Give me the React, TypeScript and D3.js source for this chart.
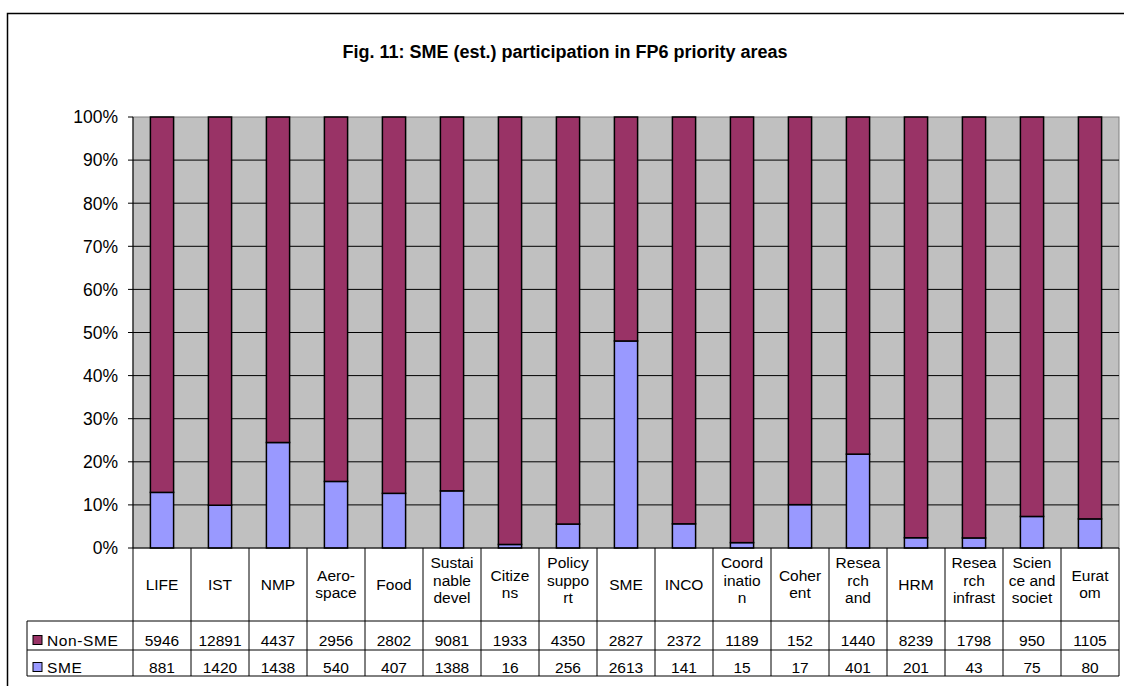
import React from "react";
import * as d3 from "d3";

const categories: string[] = [
  "LIFE", "IST", "NMP", "Aero-\nspace", "Food", "Sustai\nnable\ndevel", "Citize\nns",
  "Policy\nsuppo\nrt", "SME", "INCO", "Coord\ninatio\nn", "Coher\nent", "Resea\nrch\nand",
  "HRM", "Resea\nrch\ninfrast", "Scien\nce and\nsociet", "Eurat\nom",
];
const nonSME: number[] = [5946, 12891, 4437, 2956, 2802, 9081, 1933, 4350, 2827, 2372, 1189, 152, 1440, 8239, 1798, 950, 1105];
const sme: number[] = [881, 1420, 1438, 540, 407, 1388, 16, 256, 2613, 141, 15, 17, 401, 201, 43, 75, 80];
const yTicks: number[] = [0, 0.1, 0.2, 0.3, 0.4, 0.5, 0.6, 0.7, 0.8, 0.9, 1];
const title = "Fig. 11: SME (est.) participation in FP6 priority areas";

const COLOR_NON = "#993366";
const COLOR_SME = "#9999FF";
const FONT = "Arial, 'Liberation Sans', sans-serif";

export default function App() {
  const W = 1124, H = 686;
  const left = 133, right = 1119, top = 117, bottom = 548;
  const rowHead = 621, rowNon = 650, rowSme = 676, tableLeft = 27;

  const ids = categories.map((_, i) => String(i));
  const xCol = d3.scaleBand<string>().domain(ids).range([left, right]).padding(0);
  const xBar = d3.scaleBand<string>().domain(ids).range([left, right]).paddingInner(0.6).paddingOuter(0.3);
  const y = d3.scaleLinear().domain([0, 1]).range([bottom, top]);

  const rows = categories.map((c, i) => ({ id: String(i), SME: sme[i], NON: nonSME[i] }));
  const stack = d3.stack<any>().keys(["SME", "NON"]).offset(d3.stackOffsetExpand);
  const series = stack(rows);
  const colors: Record<string, string> = { SME: COLOR_SME, NON: COLOR_NON };
  const fs = 15.5;

  return (
    <svg width={W} height={H} style={{ position: "absolute", left: 0, top: 0 }} fontFamily={FONT}>
      <rect x={0} y={0} width={W} height={H} fill="#fff" />
      <rect x={7.5} y={13.5} width={W + 20} height={H + 20} fill="none" stroke="#000" strokeWidth={1.5} />
      <text x={565} y={58} textAnchor="middle" fontSize={18} fontWeight="bold">{title}</text>

      {/* plot area */}
      <rect x={left} y={top} width={right - left} height={bottom - top} fill="#C0C0C0" stroke="#808080" strokeWidth={1} />
      {yTicks.map((t) => (
        <g key={t}>
          {t > 0 && t < 1 && <line x1={left} x2={right} y1={y(t)} y2={y(t)} stroke="#000" strokeWidth={1} />}
          <line x1={left - 5} x2={left} y1={y(t)} y2={y(t)} stroke="#000" strokeWidth={1} />
          <text x={118} y={y(t)} dy="0.36em" textAnchor="end" fontSize={17.5}>{d3.format(".0%")(t)}</text>
        </g>
      ))}

      {series.map((s) => (
        <g key={s.key}>
          {s.map((d, i) => (
            <rect key={i} x={xBar(String(i))} width={xBar.bandwidth()} y={y(d[1])} height={y(d[0]) - y(d[1])}
              fill={colors[s.key]} stroke="#000" strokeWidth={1.5} />
          ))}
        </g>
      ))}
      <line x1={left} x2={left} y1={top} y2={bottom} stroke="#000" strokeWidth={1} />
      <line x1={left} x2={right} y1={bottom} y2={bottom} stroke="#000" strokeWidth={1} />

      {/* data table */}
      <g stroke="#000" strokeWidth={1}>
        {ids.map((id) => (
          <line key={id} x1={xCol(id)} x2={xCol(id)} y1={bottom} y2={rowSme} />
        ))}
        <line x1={right} x2={right} y1={bottom} y2={rowSme} />
        <line x1={tableLeft} x2={tableLeft} y1={rowHead} y2={rowSme} />
        <line x1={tableLeft} x2={right} y1={rowHead} y2={rowHead} />
        <line x1={tableLeft} x2={right} y1={rowNon} y2={rowNon} />
        <line x1={tableLeft} x2={right} y1={rowSme} y2={rowSme} />
      </g>
      {categories.map((c, i) => {
        const lines = c.split("\n");
        const n = lines.length;
        const cy = n === 3 ? 580 : 584;
        const cx = xCol(String(i))! + xCol.bandwidth() / 2;
        return (
          <text key={i} x={cx} textAnchor="middle" fontSize={fs}>
            {lines.map((l, j) => (
              <tspan key={j} x={cx} y={cy + (j - (n - 1) / 2) * 17.5} dy="0.36em">{l}</tspan>
            ))}
          </text>
        );
      })}
      {nonSME.map((v, i) => (
        <text key={"n" + i} x={xCol(String(i))! + xCol.bandwidth() / 2} y={640} dy="0.36em" textAnchor="middle" fontSize={fs}>{v}</text>
      ))}
      {sme.map((v, i) => (
        <text key={"s" + i} x={xCol(String(i))! + xCol.bandwidth() / 2} y={667} dy="0.36em" textAnchor="middle" fontSize={fs}>{v}</text>
      ))}
      <rect x={33} y={635.5} width={9} height={9} fill={COLOR_NON} stroke="#000" strokeWidth={1} />
      <text x={47} y={640} dy="0.36em" fontSize={fs} letterSpacing={0.6}>Non-SME</text>
      <rect x={33} y={662.5} width={9} height={9} fill={COLOR_SME} stroke="#000" strokeWidth={1} />
      <text x={47} y={667} dy="0.36em" fontSize={fs} letterSpacing={0.6}>SME</text>
    </svg>
  );
}
